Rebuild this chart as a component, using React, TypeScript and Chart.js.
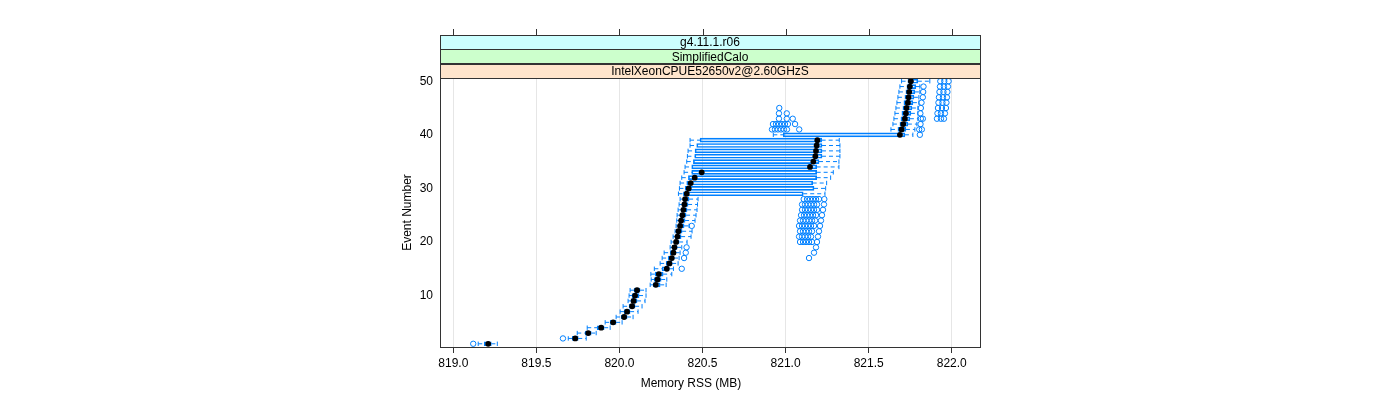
import React, { useEffect, useRef } from "react";
import { Chart, registerables } from "chart.js";

Chart.register(...registerables);

// ---------------- data ----------------
const eventNumbers = [
  1, 2, 3, 4, 5, 6, 7, 8, 9, 10, 11, 12, 13, 14, 15, 16, 17, 18, 19, 20, 21, 22, 23, 24, 25,
  26, 27, 28, 29, 30, 31, 32, 33, 34, 35, 36, 37, 38, 39, 40, 41, 42, 43, 44, 45, 46, 47, 48, 49, 50,
];

const whiskerLow = [
  819.150, 819.692, 819.746, 819.806, 819.914, 819.980, 820.004, 820.022, 820.052, 820.058,
  820.064, 820.185, 820.191, 820.189, 820.210, 820.245, 820.257, 820.269, 820.305, 820.311,
  820.323, 820.335, 820.341, 820.345, 820.347, 820.353, 820.359, 820.365, 820.355, 820.361,
  820.365, 820.375, 820.389, 820.395, 820.405, 820.409, 820.413, 820.425, 820.425, 820.926,
  821.634, 821.646, 821.652, 821.658, 821.664, 821.670, 821.676, 821.682, 821.688, 821.698,
];

const quartile1 = [
  819.186, 819.716, 819.794, 819.866, 819.944, 820.010, 820.028, 820.058, 820.070, 820.076,
  820.088, 820.203, 820.209, 820.215, 820.257, 820.281, 820.293, 820.305, 820.317, 820.329,
  820.338, 820.344, 820.353, 820.359, 820.365, 820.371, 820.377, 820.383, 820.385, 820.395,
  820.405, 820.415, 820.435, 820.435, 820.445, 820.453, 820.455, 820.465, 820.485, 820.986,
  821.676, 821.688, 821.694, 821.700, 821.706, 821.712, 821.718, 821.724, 821.730, 821.736,
];

const medians = [
  819.210, 819.734, 819.812, 819.890, 819.962, 820.028, 820.046, 820.076, 820.085, 820.094,
  820.106, 820.219, 820.229, 820.237, 820.285, 820.301, 820.315, 820.325, 820.331, 820.341,
  820.349, 820.355, 820.365, 820.371, 820.379, 820.385, 820.391, 820.395, 820.405, 820.417,
  820.429, 820.453, 820.495, 821.147, 821.167, 821.179, 821.183, 821.187, 821.191, 821.688,
  821.698, 821.708, 821.718, 821.724, 821.728, 821.736, 821.740, 821.744, 821.748, 821.754,
];

const quartile3 = [
  819.229, 819.752, 819.830, 819.908, 819.980, 820.046, 820.064, 820.094, 820.106, 820.118,
  820.124, 820.245, 820.251, 820.263, 820.299, 820.317, 820.329, 820.338, 820.347, 820.359,
  820.371, 820.377, 820.389, 820.395, 820.401, 820.407, 820.413, 820.419, 821.106, 821.171,
  821.163, 821.187, 821.187, 821.187, 821.201, 821.219, 821.219, 821.219, 821.217, 821.718,
  821.724, 821.736, 821.748, 821.754, 821.760, 821.766, 821.772, 821.778, 821.784, 821.796,
];

const whiskerHigh = [
  819.265, 819.800, 819.860, 819.944, 820.016, 820.082, 820.112, 820.136, 820.154, 820.160,
  820.160, 820.281, 820.285, 820.315, 820.325, 820.353, 820.359, 820.365, 820.375, 820.407,
  820.431, 820.437, 820.419, 820.455, 820.461, 820.467, 820.470, 820.473, 821.237, 821.241,
  821.247, 821.271, 821.287, 821.321, 821.321, 821.327, 821.327, 821.327, 821.323, 821.766,
  821.778, 821.790, 821.796, 821.796, 821.796, 821.802, 821.802, 821.808, 821.808, 821.868,
];

const outliers: number[][] = [
  [819.120], // 1
  [819.660], // 2
  [], [], [], [], [], [], [], [], [], [], [], [], // 3-14
  [820.375], // 15
  [], // 16
  [820.389, 821.141], // 17
  [820.399, 821.171], // 18
  [820.404, 821.183], // 19
  [821.087, 821.105, 821.123, 821.141, 821.159, 821.189], // 20
  [821.081, 821.099, 821.117, 821.135, 821.153, 821.195], // 21
  [821.087, 821.105, 821.123, 821.141, 821.159, 821.201], // 22
  [820.435, 821.081, 821.099, 821.117, 821.135, 821.153, 821.171, 821.207], // 23
  [821.087, 821.105, 821.123, 821.141, 821.159, 821.177, 821.213], // 24
  [821.093, 821.111, 821.129, 821.147, 821.165, 821.183, 821.219], // 25
  [821.099, 821.117, 821.135, 821.153, 821.171, 821.189, 821.225], // 26
  [821.099, 821.117, 821.135, 821.153, 821.171, 821.189, 821.231], // 27
  [821.109, 821.129, 821.147, 821.165, 821.183, 821.201, 821.233], // 28
  [], [], [], [], [], [], [], [], [], [], [], // 29-39
  [821.808], // 40
  [820.918, 820.936, 820.954, 820.972, 820.990, 821.008, 821.082, 821.804, 821.820], // 41
  [820.924, 820.942, 820.960, 820.978, 820.996, 821.014, 821.057, 821.812], // 42
  [820.960, 821.007, 821.043, 821.814, 821.826, 821.911, 821.935, 821.953], // 43
  [820.960, 821.007, 821.811, 821.914, 821.935, 821.959], // 44
  [820.962, 821.814, 821.917, 821.941, 821.965], // 45
  [821.818, 821.920, 821.944, 821.968], // 46
  [821.826, 821.923, 821.947, 821.971], // 47
  [821.828, 821.926, 821.950, 821.974], // 48
  [821.830, 821.929, 821.953, 821.977], // 49
  [821.931, 821.955, 821.981], // 50
];

const xTickValues = [819.0, 819.5, 820.0, 820.5, 821.0, 821.5, 822.0];
const yTickValues = [10, 20, 30, 40, 50];
const stripLabels = ["IntelXeonCPUE52650v2@2.60GHzS", "SimplifiedCalo", "g4.11.1.r06"]; // bottom to top
const stripColors = ["#ffe5cc", "#ccffcc", "#ccffff"];
const xTitle = "Memory RSS (MB)";
const yTitle = "Event Number";

const FONT = "'Liberation Sans', Arial, Helvetica, sans-serif";
const BLUE = "#0080ff";

export default function App() {
  const ref = useRef<HTMLCanvasElement>(null);

  useEffect(() => {
    if (!ref.current) return;

    const boxes = eventNumbers.map((e, i) => ({ x: [quartile1[i], quartile3[i]], y: e }));
    const whiskers: any[] = [];
    eventNumbers.forEach((e, i) => {
      whiskers.push({ x: whiskerLow[i], y: e }, { x: quartile1[i], y: e }, { x: null, y: null });
      whiskers.push({ x: quartile3[i], y: e }, { x: whiskerHigh[i], y: e }, { x: null, y: null });
    });
    const caps = eventNumbers.flatMap((e, i) => [
      { x: whiskerLow[i], y: e },
      { x: whiskerHigh[i], y: e },
    ]);
    const medianPts = eventNumbers.map((e, i) => ({ x: medians[i], y: e }));
    const outlierPts = eventNumbers.flatMap((e, i) => outliers[i].map((v) => ({ x: v, y: e })));

    const framePlugin = {
      id: "latticeFrame",
      afterDraw(chart: any) {
        const { ctx, chartArea } = chart;
        const { left, right, top, bottom } = chartArea;
        const xs = chart.scales.x;
        ctx.save();
        const h = 14.33;
        ctx.font = `12px ${FONT}`;
        ctx.textAlign = "center";
        ctx.textBaseline = "middle";
        for (let i = 0; i < stripLabels.length; i++) {
          const y1 = top - (i + 1) * h;
          ctx.fillStyle = stripColors[i];
          ctx.fillRect(left, y1, right - left, h);
          ctx.strokeStyle = "#333";
          ctx.lineWidth = 1;
          ctx.strokeRect(Math.round(left) + 0.5, Math.round(y1) + 0.5, Math.round(right - left), Math.round(h));
          ctx.fillStyle = "#000";
          ctx.fillText(stripLabels[i], (left + right) / 2, y1 + h / 2 + 1);
        }
        const stripTop = Math.round(top - stripLabels.length * h);
        ctx.strokeStyle = "#333";
        ctx.beginPath();
        xTickValues.forEach((v) => {
          const px = Math.round(xs.getPixelForValue(v)) + 0.5;
          ctx.moveTo(px, stripTop - 6);
          ctx.lineTo(px, stripTop);
        });
        ctx.stroke();
        ctx.strokeRect(Math.round(left) + 0.5, Math.round(top) + 0.5, Math.round(right - left), Math.round(bottom - top));
        ctx.fillStyle = "#000";
        ctx.font = `12px ${FONT}`;
        ctx.fillText(xTitle, 691, 384);
        ctx.restore();
      },
    };

    const chart = new Chart(ref.current, {
      type: "scatter",
      data: {
        datasets: [
          {
            type: "scatter",
            label: "median",
            data: medianPts,
            order: 0,
            pointStyle: "circle",
            pointRadius: 2.9,
            pointBackgroundColor: "#000",
            pointBorderColor: "#000",
            pointBorderWidth: 0,
          } as any,
          {
            type: "scatter",
            label: "outliers",
            data: outlierPts,
            order: 1,
            pointStyle: "circle",
            pointRadius: 2.7,
            pointBackgroundColor: "rgba(0,0,0,0)",
            pointBorderColor: BLUE,
            pointBorderWidth: 1,
          },
          {
            type: "scatter",
            label: "caps",
            data: caps,
            order: 2,
            pointStyle: "line",
            rotation: 90,
            pointRadius: 2.2,
            pointBorderColor: BLUE,
            pointBorderWidth: 1,
          } as any,
          {
            type: "line",
            label: "whiskers",
            data: whiskers,
            order: 3,
            showLine: true,
            spanGaps: false,
            borderColor: BLUE,
            borderWidth: 1,
            borderDash: [4, 3],
            pointRadius: 0,
            fill: false,
          } as any,
          {
            type: "bar",
            label: "boxes",
            data: boxes,
            order: 4,
            indexAxis: "y",
            grouped: false,
            barThickness: 4,
            borderWidth: 1,
            borderSkipped: false,
            borderColor: BLUE,
            backgroundColor: "rgba(0,0,0,0)",
          } as any,
        ],
      },
      options: {
        responsive: false,
        animation: false,
        events: [],
        layout: { padding: { left: 396, right: 420, top: 78, bottom: 5 } },
        plugins: { legend: { display: false }, tooltip: { enabled: false } },
        scales: {
          x: {
            type: "linear",
            position: "bottom",
            offset: false,
            min: 818.92,
            max: 822.17,
            afterBuildTicks: (s: any) => {
              s.ticks = xTickValues.map((v) => ({ value: v }));
            },
            afterFit: (s: any) => {
              s.height = 48;
            },
            ticks: {
              callback: (v: any) => Number(v).toFixed(1),
              font: { family: FONT, size: 12 },
              color: "#000",
              padding: 3,
              maxRotation: 0,
            },
            grid: { offset: false, color: "#e6e6e6", tickColor: "#333", tickLength: 6, drawTicks: true },
            border: { display: false },
          },
          y: {
            type: "linear",
            position: "left",
            offset: false,
            min: 0.4,
            max: 50.6,
            afterBuildTicks: (s: any) => {
              s.ticks = yTickValues.map((v) => ({ value: v }));
            },
            afterFit: (s: any) => {
              s.width = 44;
            },
            ticks: {
              font: { family: FONT, size: 12 },
              color: "#000",
              padding: 7,
            },
            grid: { offset: false, drawOnChartArea: false, drawTicks: false },
            border: { display: false },
            title: {
              display: true,
              text: yTitle,
              font: { family: FONT, size: 12 },
              color: "#000",
            },
          },
        },
      },
      plugins: [framePlugin],
    } as any);

    return () => chart.destroy();
  }, []);

  return (
    <div style={{ position: "absolute", left: 0, top: 0, width: 1400, height: 400, background: "#fff" }}>
      <canvas ref={ref} width={1400} height={400} style={{ display: "block" }} />
    </div>
  );
}
